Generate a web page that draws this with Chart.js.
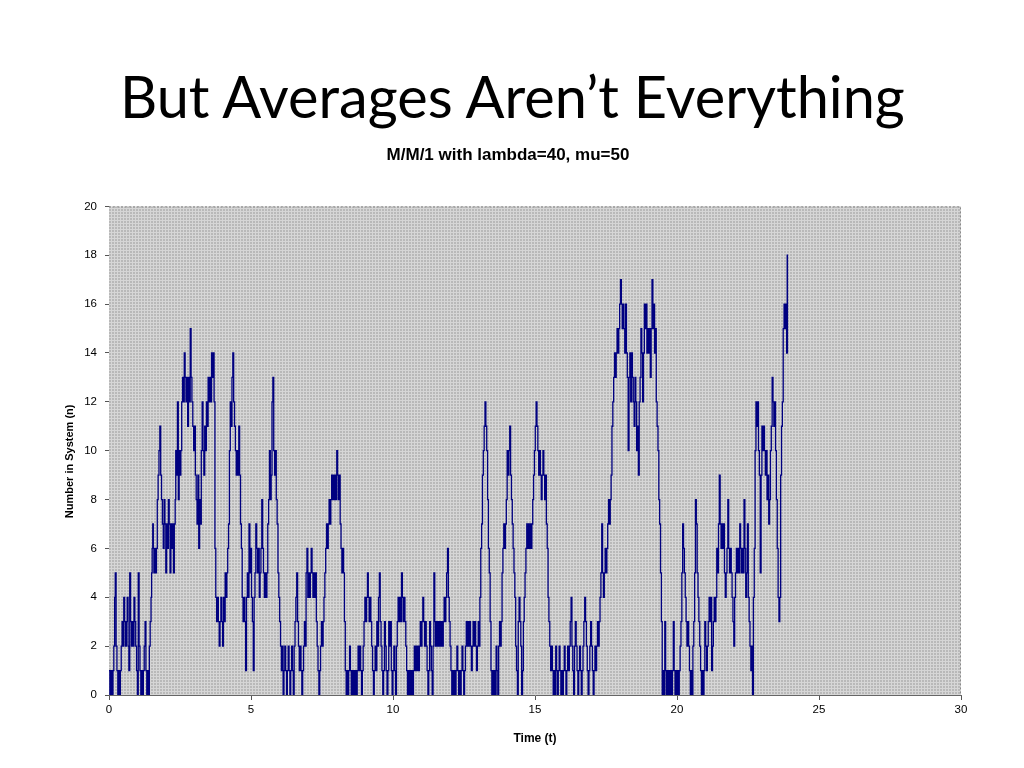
<!DOCTYPE html>
<html>
<head>
<meta charset="utf-8">
<script src="https://cdn.jsdelivr.net/npm/chart.js@4.4.0/dist/chart.umd.min.js"></script>
<style>
  html, body { margin: 0; padding: 0; background: #fff; }
  body { width: 1024px; height: 768px; position: relative; overflow: hidden; }
  #heading {
    position: absolute; left: 120px; top: 66px; margin: 0;
    font-family: Lato, 'Open Sans', sans-serif; font-weight: 400;
    font-size: 56px; line-height: 1; white-space: nowrap; color: #000;
  }
  #wrap { position: absolute; left: 0; top: 130px; width: 1024px; height: 638px; }
</style>
</head>
<body>
<h1 id="heading">But Averages Aren’t Everything</h1>
<div id="wrap"><canvas id="queueChart" width="1024" height="638"></canvas></div>
<script>
// event times (t) and number in system (n) after each event
const eventTimes = [
  0, 0.03, 0.06, 0.1, 0.14, 0.17, 0.2, 0.22, 0.25, 0.28,
  0.31, 0.34, 0.37, 0.4, 0.43, 0.46, 0.49, 0.52, 0.55, 0.58,
  0.61, 0.64, 0.67, 0.7, 0.73, 0.76, 0.79, 0.82, 0.85, 0.88,
  0.91, 0.94, 0.97, 1.0, 1.03, 1.06, 1.09, 1.12, 1.15, 1.18,
  1.21, 1.24, 1.27, 1.3, 1.33, 1.36, 1.39, 1.42, 1.45, 1.48,
  1.5, 1.52, 1.54, 1.56, 1.58, 1.61, 1.64, 1.67, 1.7, 1.73,
  1.76, 1.79, 1.82, 1.85, 1.88, 1.91, 1.94, 1.97, 2.0, 2.03,
  2.06, 2.09, 2.12, 2.15, 2.18, 2.21, 2.24, 2.27, 2.3, 2.33,
  2.35, 2.38, 2.41, 2.44, 2.47, 2.5, 2.53, 2.56, 2.59, 2.62,
  2.65, 2.68, 2.71, 2.74, 2.77, 2.8, 2.83, 2.86, 2.89, 2.92,
  2.95, 2.98, 3.01, 3.04, 3.07, 3.1, 3.13, 3.16, 3.19, 3.22,
  3.25, 3.28, 3.31, 3.34, 3.37, 3.4, 3.43, 3.46, 3.49, 3.52,
  3.55, 3.58, 3.61, 3.64, 3.67, 3.7, 3.73, 3.76, 3.79, 3.82,
  3.85, 3.88, 3.91, 3.94, 3.97, 4.0, 4.03, 4.06, 4.09, 4.12,
  4.15, 4.18, 4.21, 4.24, 4.27, 4.3, 4.33, 4.36, 4.39, 4.42,
  4.45, 4.48, 4.51, 4.54, 4.57, 4.6, 4.63, 4.66, 4.69, 4.72,
  4.75, 4.78, 4.81, 4.84, 4.87, 4.9, 4.93, 4.96, 4.99, 5.02,
  5.05, 5.08, 5.11, 5.14, 5.17, 5.2, 5.23, 5.26, 5.29, 5.32,
  5.35, 5.38, 5.41, 5.44, 5.47, 5.5, 5.53, 5.56, 5.59, 5.62,
  5.65, 5.68, 5.71, 5.74, 5.77, 5.8, 5.83, 5.86, 5.89, 5.92,
  5.95, 5.98, 6.01, 6.04, 6.07, 6.1, 6.13, 6.16, 6.19, 6.22,
  6.25, 6.28, 6.31, 6.34, 6.37, 6.4, 6.43, 6.46, 6.49, 6.52,
  6.55, 6.58, 6.61, 6.64, 6.67, 6.7, 6.73, 6.76, 6.79, 6.82,
  6.85, 6.88, 6.91, 6.94, 6.97, 7.0, 7.03, 7.06, 7.09, 7.12,
  7.15, 7.18, 7.21, 7.24, 7.27, 7.3, 7.33, 7.36, 7.39, 7.42,
  7.45, 7.48, 7.51, 7.54, 7.57, 7.6, 7.63, 7.66, 7.69, 7.72,
  7.75, 7.78, 7.81, 7.84, 7.87, 7.9, 7.93, 7.96, 7.99, 8.02,
  8.05, 8.08, 8.11, 8.14, 8.17, 8.2, 8.23, 8.26, 8.29, 8.32,
  8.35, 8.38, 8.41, 8.44, 8.47, 8.5, 8.53, 8.56, 8.59, 8.62,
  8.65, 8.68, 8.71, 8.74, 8.77, 8.8, 8.83, 8.86, 8.89, 8.92,
  8.95, 8.98, 9.01, 9.04, 9.07, 9.1, 9.13, 9.16, 9.19, 9.22,
  9.25, 9.28, 9.31, 9.34, 9.37, 9.4, 9.43, 9.46, 9.49, 9.52,
  9.55, 9.58, 9.61, 9.64, 9.67, 9.7, 9.73, 9.76, 9.79, 9.82,
  9.85, 9.88, 9.91, 9.94, 9.97, 10.0, 10.03, 10.06, 10.09, 10.12,
  10.15, 10.18, 10.21, 10.24, 10.27, 10.3, 10.33, 10.36, 10.39, 10.42,
  10.45, 10.48, 10.51, 10.54, 10.57, 10.6, 10.63, 10.66, 10.69, 10.72,
  10.75, 10.78, 10.81, 10.84, 10.87, 10.9, 10.93, 10.96, 10.99, 11.02,
  11.05, 11.08, 11.11, 11.14, 11.17, 11.2, 11.23, 11.26, 11.29, 11.32,
  11.35, 11.38, 11.41, 11.44, 11.47, 11.5, 11.53, 11.56, 11.59, 11.62,
  11.65, 11.68, 11.71, 11.74, 11.77, 11.8, 11.83, 11.86, 11.89, 11.92,
  11.95, 11.98, 12.01, 12.04, 12.07, 12.1, 12.13, 12.16, 12.19, 12.22,
  12.25, 12.28, 12.31, 12.34, 12.37, 12.4, 12.43, 12.46, 12.49, 12.52,
  12.55, 12.58, 12.61, 12.64, 12.67, 12.7, 12.73, 12.76, 12.79, 12.82,
  12.85, 12.88, 12.91, 12.94, 12.97, 13.0, 13.03, 13.06, 13.09, 13.12,
  13.15, 13.18, 13.21, 13.24, 13.27, 13.3, 13.33, 13.36, 13.39, 13.42,
  13.45, 13.48, 13.51, 13.54, 13.57, 13.6, 13.63, 13.66, 13.69, 13.72,
  13.75, 13.78, 13.81, 13.84, 13.87, 13.9, 13.93, 13.96, 13.99, 14.02,
  14.05, 14.08, 14.11, 14.14, 14.17, 14.2, 14.23, 14.26, 14.29, 14.32,
  14.35, 14.38, 14.41, 14.44, 14.47, 14.5, 14.53, 14.56, 14.59, 14.62,
  14.65, 14.68, 14.71, 14.74, 14.77, 14.8, 14.83, 14.86, 14.89, 14.92,
  14.95, 14.98, 15.01, 15.04, 15.07, 15.1, 15.13, 15.16, 15.19, 15.22,
  15.25, 15.28, 15.31, 15.34, 15.37, 15.4, 15.43, 15.46, 15.49, 15.52,
  15.55, 15.58, 15.61, 15.64, 15.67, 15.7, 15.73, 15.76, 15.79, 15.82,
  15.85, 15.88, 15.91, 15.94, 15.97, 16.0, 16.03, 16.06, 16.09, 16.12,
  16.15, 16.18, 16.21, 16.24, 16.27, 16.3, 16.33, 16.36, 16.39, 16.42,
  16.45, 16.48, 16.51, 16.54, 16.57, 16.6, 16.63, 16.66, 16.69, 16.72,
  16.75, 16.78, 16.81, 16.84, 16.87, 16.9, 16.93, 16.96, 16.99, 17.02,
  17.05, 17.08, 17.11, 17.14, 17.17, 17.2, 17.23, 17.26, 17.29, 17.32,
  17.35, 17.38, 17.41, 17.44, 17.47, 17.5, 17.53, 17.56, 17.59, 17.62,
  17.65, 17.68, 17.71, 17.74, 17.77, 17.8, 17.83, 17.86, 17.89, 17.92,
  17.95, 17.98, 18.01, 18.04, 18.07, 18.1, 18.13, 18.16, 18.19, 18.22,
  18.25, 18.28, 18.31, 18.34, 18.37, 18.4, 18.43, 18.46, 18.49, 18.52,
  18.55, 18.58, 18.61, 18.64, 18.67, 18.7, 18.73, 18.76, 18.79, 18.82,
  18.85, 18.88, 18.91, 18.94, 18.97, 19.0, 19.03, 19.06, 19.09, 19.12,
  19.15, 19.18, 19.21, 19.24, 19.27, 19.3, 19.33, 19.36, 19.39, 19.42,
  19.45, 19.48, 19.51, 19.54, 19.57, 19.6, 19.63, 19.66, 19.69, 19.72,
  19.75, 19.78, 19.81, 19.84, 19.87, 19.9, 19.93, 19.96, 19.99, 20.02,
  20.05, 20.08, 20.11, 20.14, 20.17, 20.2, 20.23, 20.26, 20.29, 20.32,
  20.35, 20.38, 20.41, 20.44, 20.47, 20.5, 20.53, 20.56, 20.59, 20.62,
  20.65, 20.68, 20.71, 20.74, 20.77, 20.8, 20.83, 20.86, 20.89, 20.92,
  20.95, 20.98, 21.01, 21.04, 21.07, 21.1, 21.13, 21.16, 21.19, 21.22,
  21.25, 21.28, 21.31, 21.34, 21.37, 21.4, 21.43, 21.46, 21.49, 21.52,
  21.55, 21.58, 21.61, 21.64, 21.67, 21.7, 21.73, 21.76, 21.79, 21.82,
  21.85, 21.88, 21.91, 21.94, 21.97, 22.0, 22.03, 22.06, 22.09, 22.12,
  22.15, 22.18, 22.21, 22.24, 22.27, 22.3, 22.33, 22.36, 22.39, 22.42,
  22.45, 22.48, 22.51, 22.54, 22.57, 22.6, 22.63, 22.66, 22.69, 22.72,
  22.75, 22.78, 22.81, 22.84, 22.87, 22.9, 22.93, 22.96, 22.99, 23.02,
  23.05, 23.08, 23.11, 23.14, 23.17, 23.2, 23.23, 23.26, 23.29, 23.32,
  23.35, 23.38, 23.41, 23.44, 23.47, 23.5, 23.53, 23.56, 23.59, 23.62,
  23.65, 23.68, 23.71, 23.74, 23.77, 23.8, 23.83, 23.86, 23.88, 23.89,
];

const numberInSystem = [
  1, 0, 1, 0, 1, 2, 4, 5, 2, 1,
  0, 1, 0, 1, 2, 3, 2, 4, 3, 2,
  3, 4, 2, 1, 5, 3, 2, 3, 2, 4,
  3, 2, 1, 0, 5, 2, 1, 0, 1, 0,
  1, 2, 3, 1, 0, 1, 0, 2, 3, 4,
  5, 6, 7, 6, 5, 6, 5, 6, 8, 9,
  10, 11, 9, 8, 7, 6, 8, 7, 5, 7,
  6, 8, 7, 5, 7, 6, 7, 5, 7, 8,
  10, 9, 12, 8, 10, 9, 10, 12, 13, 12,
  14, 13, 12, 13, 11, 13, 12, 15, 13, 12,
  11, 10, 11, 9, 8, 7, 9, 6, 8, 7,
  10, 12, 10, 9, 11, 10, 12, 11, 13, 12,
  13, 12, 14, 13, 14, 12, 6, 4, 3, 4,
  3, 2, 3, 4, 3, 2, 4, 3, 5, 4,
  5, 6, 7, 10, 12, 11, 13, 14, 12, 11,
  10, 9, 10, 9, 11, 9, 7, 6, 4, 3,
  4, 3, 1, 4, 5, 4, 7, 5, 6, 4,
  3, 1, 4, 5, 7, 6, 5, 6, 4, 5,
  6, 8, 6, 5, 4, 5, 4, 5, 7, 8,
  10, 8, 9, 12, 13, 10, 9, 10, 8, 7,
  5, 4, 3, 2, 1, 2, 0, 1, 2, 1,
  0, 1, 2, 1, 0, 1, 2, 1, 0, 2,
  3, 4, 5, 3, 2, 1, 2, 1, 0, 1,
  2, 3, 2, 5, 6, 4, 5, 4, 5, 6,
  5, 4, 5, 4, 5, 3, 2, 1, 0, 1,
  2, 3, 2, 3, 4, 5, 6, 7, 6, 7,
  8, 7, 8, 9, 8, 9, 8, 9, 8, 10,
  9, 8, 9, 7, 6, 5, 6, 5, 3, 1,
  0, 1, 0, 1, 2, 1, 0, 1, 0, 1,
  0, 1, 0, 1, 2, 1, 2, 1, 0, 1,
  2, 3, 4, 3, 4, 5, 4, 3, 4, 3,
  2, 1, 0, 1, 2, 1, 3, 2, 4, 5,
  3, 2, 1, 0, 1, 3, 2, 1, 0, 1,
  3, 2, 3, 1, 0, 1, 2, 1, 0, 2,
  3, 4, 3, 4, 3, 5, 4, 3, 4, 3,
  2, 1, 0, 1, 0, 1, 0, 1, 0, 1,
  2, 1, 2, 1, 2, 1, 2, 3, 2, 3,
  4, 3, 2, 3, 2, 1, 0, 1, 3, 2,
  1, 0, 2, 5, 3, 2, 3, 2, 3, 2,
  3, 2, 3, 2, 3, 4, 3, 4, 5, 6,
  4, 3, 2, 1, 0, 1, 0, 1, 0, 1,
  2, 1, 0, 1, 0, 1, 2, 1, 0, 1,
  2, 3, 2, 3, 2, 3, 2, 1, 2, 3,
  2, 3, 2, 1, 2, 3, 2, 4, 6, 7,
  9, 10, 11, 12, 11, 10, 8, 6, 5, 3,
  1, 0, 1, 0, 1, 0, 2, 1, 0, 2,
  3, 2, 3, 5, 6, 7, 6, 7, 8, 10,
  9, 10, 11, 9, 8, 7, 6, 5, 4, 2,
  1, 0, 3, 4, 3, 2, 0, 1, 3, 4,
  5, 6, 7, 6, 7, 6, 7, 6, 7, 8,
  9, 10, 11, 12, 11, 10, 9, 10, 9, 8,
  9, 10, 9, 8, 9, 7, 6, 4, 3, 2,
  1, 2, 1, 0, 1, 0, 2, 1, 0, 1,
  2, 1, 0, 1, 0, 1, 2, 1, 0, 1,
  2, 1, 2, 3, 4, 2, 1, 0, 2, 3,
  2, 1, 0, 1, 2, 1, 0, 1, 2, 3,
  4, 3, 2, 1, 0, 1, 2, 3, 2, 1,
  0, 1, 2, 1, 2, 3, 2, 3, 4, 5,
  7, 5, 4, 5, 6, 5, 6, 7, 8, 7,
  8, 9, 11, 12, 13, 14, 13, 14, 15, 14,
  15, 16, 17, 16, 15, 16, 15, 14, 16, 14,
  13, 10, 13, 14, 12, 14, 13, 12, 11, 13,
  12, 10, 11, 9, 12, 13, 15, 14, 12, 14,
  16, 15, 16, 14, 15, 14, 15, 13, 15, 17,
  15, 16, 14, 15, 12, 11, 10, 8, 7, 5,
  3, 0, 1, 0, 3, 1, 0, 1, 0, 1,
  0, 1, 0, 1, 3, 1, 0, 1, 0, 1,
  0, 1, 2, 3, 5, 7, 6, 5, 4, 3,
  2, 3, 2, 1, 0, 1, 0, 2, 3, 5,
  8, 7, 5, 4, 3, 2, 1, 0, 1, 0,
  1, 3, 2, 1, 2, 3, 4, 3, 4, 1,
  2, 3, 4, 3, 4, 6, 5, 7, 9, 7,
  6, 7, 6, 7, 5, 4, 5, 6, 8, 6,
  5, 6, 5, 4, 3, 2, 4, 5, 6, 5,
  6, 5, 7, 6, 5, 6, 5, 8, 6, 4,
  5, 7, 4, 3, 2, 1, 2, 0, 4, 6,
  10, 12, 11, 12, 10, 9, 5, 9, 11, 10,
  11, 10, 9, 10, 8, 9, 7, 8, 10, 11,
  13, 12, 11, 12, 10, 8, 6, 4, 3, 4,
  9, 11, 12, 15, 16, 15, 16, 14, 18, 14,
];

const xTicks = [0, 5, 10, 15, 20, 25, 30];
const yTicks = [0, 2, 4, 6, 8, 10, 12, 14, 16, 18, 20];

const chartTitle = 'M/M/1 with lambda=40, mu=50';
const xTitle = 'Time (t)';
// trailing spaces nudge the rotated title down a little, as on the slide
const yTitle = 'Number in System (n)       ';

// fit heading to the slide width and put its baseline where the slide has it
const heading = document.getElementById('heading');
const headWidth = heading.getBoundingClientRect().width;
heading.style.fontSize = (56 * 785 / headWidth) + 'px';
const probe = document.createElement('span');
probe.style.display = 'inline-block';
probe.style.height = '0';
probe.style.verticalAlign = 'baseline';
heading.appendChild(probe);
const baseline = probe.getBoundingClientRect().top;
heading.style.top = (66 + 118 - baseline) + 'px';

// dithered grey plot background like the old Excel fill
const makePattern = (ctx) => {
  const c = document.createElement('canvas');
  c.width = 3;
  c.height = 3;
  const p = c.getContext('2d');
  p.fillStyle = '#b9b9b9';
  p.fillRect(0, 0, 3, 3);
  p.fillStyle = '#d6d6d6';
  p.fillRect(0, 0, 3, 1);
  p.fillRect(0, 0, 1, 3);
  return ctx.createPattern(c, 'repeat');
};

const plotBackground = {
  id: 'plotBackground',
  beforeDatasetsDraw(chart) {
    const { ctx, chartArea } = chart;
    ctx.save();
    ctx.fillStyle = makePattern(ctx);
    ctx.fillRect(chartArea.left, chartArea.top, chartArea.width, chartArea.height);
    ctx.strokeStyle = '#8a8a8a';
    ctx.lineWidth = 1;
    ctx.setLineDash([2, 2]);
    ctx.beginPath();
    ctx.moveTo(chartArea.left, chartArea.top + 0.5);
    ctx.lineTo(chartArea.right - 0.5, chartArea.top + 0.5);
    ctx.lineTo(chartArea.right - 0.5, chartArea.bottom);
    ctx.stroke();
    ctx.restore();
  },
};

const points = eventTimes.map((t, i) => ({ x: t, y: numberInSystem[i] }));

const fontFamily = 'Arial, "Liberation Sans", sans-serif';
const tickFont = { family: fontFamily, size: 11.5 };

new Chart(document.getElementById('queueChart'), {
  type: 'line',
  data: {
    datasets: [
      {
        data: points,
        stepped: true,
        borderColor: '#000080',
        borderWidth: 1.3,
        pointRadius: 0,
        fill: false,
      },
    ],
  },
  options: {
    responsive: false,
    animation: false,
    events: [],
    layout: { padding: { left: 55, right: 63, top: 0, bottom: 0 } },
    plugins: {
      legend: { display: false },
      tooltip: { enabled: false },
      title: {
        display: true,
        text: chartTitle,
        color: '#000',
        font: { family: fontFamily, size: 17, weight: 'bold' },
        padding: { top: 15, bottom: 41 },
      },
    },
    scales: {
      x: {
        type: 'linear',
        min: 0,
        max: 30,
        afterBuildTicks: (scale) => {
          scale.ticks = xTicks.map((v) => ({ value: v }));
        },
        afterFit: (scale) => {
          scale.height = 73;
        },
        ticks: { color: '#000', font: tickFont, padding: 3 },
        grid: { drawOnChartArea: false, tickLength: 5, color: '#555' },
        border: { color: '#666' },
        title: {
          display: true,
          text: xTitle,
          color: '#000',
          font: { family: fontFamily, size: 12, weight: 'bold' },
          padding: { top: 22, bottom: 22 },
        },
      },
      y: {
        min: 0,
        max: 20,
        afterBuildTicks: (scale) => {
          scale.ticks = yTicks.map((v) => ({ value: v }));
        },
        afterFit: (scale) => {
          scale.width = 54;
        },
        ticks: { color: '#000', font: tickFont, padding: 8 },
        grid: { drawOnChartArea: false, tickLength: 4, color: '#555' },
        border: { color: '#666' },
        title: {
          display: true,
          text: yTitle,
          color: '#000',
          font: { family: fontFamily, size: 11, weight: 'bold' },
          padding: { top: 8, bottom: 0 },
        },
      },
    },
  },
  plugins: [plotBackground],
});
</script>
</body>
</html>
